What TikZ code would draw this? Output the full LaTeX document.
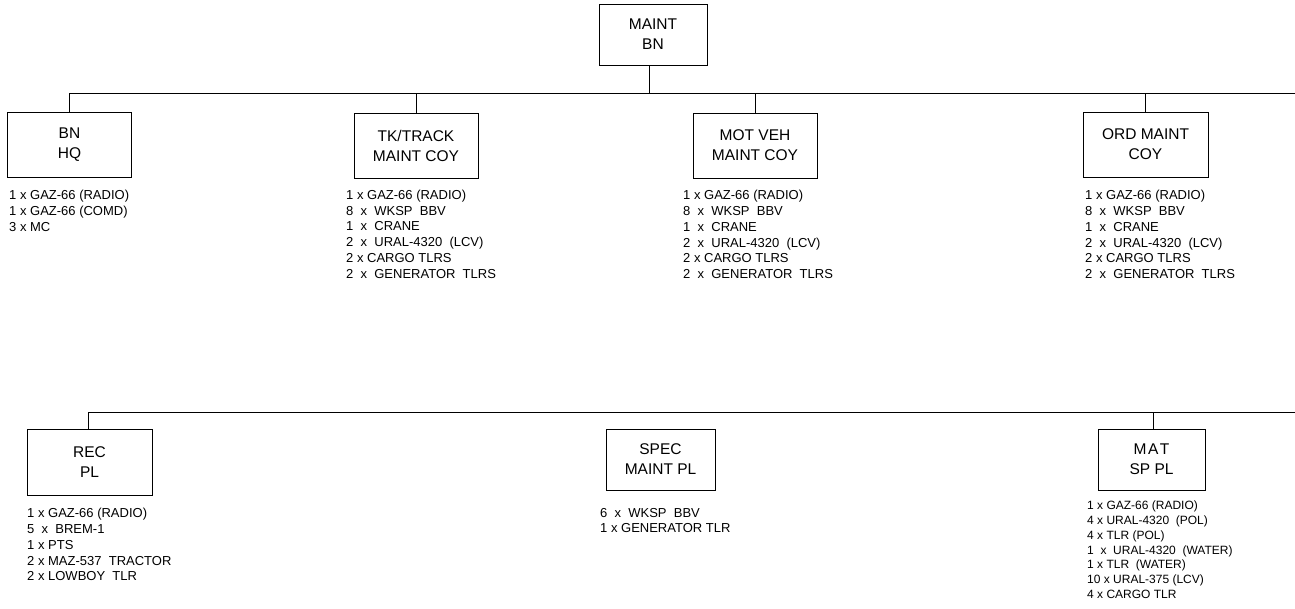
\documentclass[tikz,border=0pt]{standalone}
\usepackage{fontspec}
\setmainfont{Liberation Sans}
\newcommand{\dd}{\ \ }
\newcommand{\st}{\rule{0pt}{10pt}}
\begin{document}
\begin{tikzpicture}[x=1pt,y=-1pt,
  unitbox/.style={draw, line width=0.9pt, inner sep=0pt, align=center,
    font=\fontsize{15.5}{20}\selectfont},
  eqlist/.style={anchor=north west, inner sep=0pt, align=left,
    font=\fontsize{13}{15.8}\selectfont},
  eqsmall/.style={anchor=north west, inner sep=0pt, align=left,
    font=\fontsize{12}{14.8}\selectfont},
  link/.style={line width=0.9pt}]
\path[use as bounding box] (0,0) rectangle (1295,608);

% boxes
\node[unitbox, minimum width=108, minimum height=61] (maint) at (653,34.5) {MAINT\\BN};
\node[unitbox, minimum width=124, minimum height=65] (hq) at (69.5,144.5) {BN\\HQ};
\node[unitbox, minimum width=124, minimum height=65] (tk) at (416,145.5) {TK/TRACK\\MAINT COY};
\node[unitbox, minimum width=124, minimum height=65] (mot) at (755,145.5) {MOT VEH\\MAINT COY};
\node[unitbox, minimum width=125, minimum height=65] (ord) at (1145.5,144.5) {ORD MAINT\\COY};
\node[unitbox, minimum width=125, minimum height=66] (rec) at (89.5,462) {REC\\PL};
\node[unitbox, minimum width=109, minimum height=61] (spec) at (660.5,459.5) {SPEC\\MAINT PL};
\node[unitbox, minimum width=107, minimum height=61] (mat) at (1151.5,459.5) {M\kern1.5pt A\kern1.5pt T\\SP PL};

% buses
\coordinate (t1) at (70,93);
\coordinate (t2) at (1295,93);
\coordinate (b1) at (88,412);
\coordinate (b2) at (1295,412);
\draw[link] (t1) -- (t2);
\draw[link] (b1) -- (b2);
\draw[link] ([xshift=-4pt]maint.south) -- ([xshift=-4pt]maint.south |- t1);
\draw[link] (hq.north) -- (hq.north |- t1);
\draw[link] (tk.north) -- (tk.north |- t1);
\draw[link] (mot.north) -- (mot.north |- t1);
\draw[link] (ord.north) -- (ord.north |- t1);
\draw[link] ([xshift=-1.5pt]rec.north) -- ([xshift=-1.5pt]rec.north |- b1);
\draw[link] ([xshift=1.5pt]mat.north) -- ([xshift=1.5pt]mat.north |- b1);

% equipment lists
\node[eqlist] (hql) at (9,189.5) {\st 1 x GAZ-66 (RADIO)\\1 x GAZ-66 (COMD)\\3 x MC};
\node[eqlist] (tkl) at (346,189) {\st 1 x GAZ-66 (RADIO)\\8\dd x\dd WKSP\dd BBV\\1\dd x\dd CRANE\\2\dd x\dd URAL-4320\dd (LCV)\\2 x CARGO TLRS\\2\dd x\dd GENERATOR\dd TLRS};
\node[eqlist] (motl) at (683,189.5) {\st 1 x GAZ-66 (RADIO)\\8\dd x\dd WKSP\dd BBV\\1\dd x\dd CRANE\\2\dd x\dd URAL-4320\dd (LCV)\\2 x CARGO TLRS\\2\dd x\dd GENERATOR\dd TLRS};
\node[eqlist] (ordl) at (1085,189.5) {\st 1 x GAZ-66 (RADIO)\\8\dd x\dd WKSP\dd BBV\\1\dd x\dd CRANE\\2\dd x\dd URAL-4320\dd (LCV)\\2 x CARGO TLRS\\2\dd x\dd GENERATOR\dd TLRS};
\node[eqlist] (recl) at (27,507.5) {\st 1 x GAZ-66 (RADIO)\\5\dd x\dd BREM-1\\1 x PTS\\2 x MAZ-537\dd TRACTOR\\2 x LOWBOY\dd TLR};
\node[eqlist, font=\fontsize{13}{15}\selectfont] (specl) at (600,507.5) {\st 6\dd x\dd WKSP\dd BBV\\1 x GENERATOR TLR};
\node[eqsmall] (matl) at (1087,499.5) {\st 1 x GAZ-66 (RADIO)\\4 x URAL-4320\dd (POL)\\4 x TLR (POL)\\1\dd x\dd URAL-4320\dd (WATER)\\1 x TLR\dd (WATER)\\10 x URAL-375 (LCV)\\4 x CARGO TLR};
\end{tikzpicture}
\end{document}
